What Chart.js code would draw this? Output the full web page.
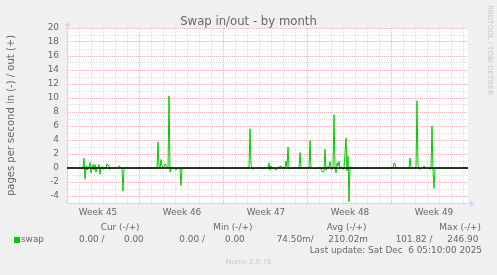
<!DOCTYPE html>
<html>
<head>
<meta charset="utf-8">
<title>Swap in/out - by month</title>
<script src="https://cdn.jsdelivr.net/npm/chart.js@4.4.1/dist/chart.umd.min.js"></script>
<style>
    body { margin: 0; background: #f0f0f0; }
    #wrap { position: relative; width: 497px; height: 275px; overflow: hidden; font-family: "DejaVu Sans", sans-serif; color: #666; }
    #wrap canvas { position: absolute; left: 0; top: 0; }
    .t { position: absolute; white-space: pre; font-size: 8.9px; line-height: 11px; }
    .title { position: absolute; left: 0; top: 14px; width: 497px; text-align: center; font-size: 11.7px; line-height: 14px; }
    .mark { position: absolute; color: #c8c8c8; font-size: 7px; line-height: 9px; white-space: pre; }
    .box { position: absolute; left: 14px; top: 237px; width: 6px; height: 6px; background: #00cc00; }
</style>
</head>
<body>
<div id="wrap">
    <canvas id="swapChart" width="497" height="275"></canvas>
    <div class="title">Swap in/out - by month</div>
    <div class="mark" style="left:485px; top:5px; writing-mode:vertical-rl;">RRDTOOL / TOBI OETIKER</div>
    <div id="legend"></div>
    <div class="mark" style="left:0; width:497px; text-align:center; top:258px;">Munin 2.0.76</div>
</div>
<script>
/* Data: hours from the left edge of the graph, swap pages/s (in is negative, out positive) */
var hours = [0, 8, 10, 12, 32, 34, 36, 38, 40, 42, 44, 46, 48, 50, 52, 54, 56, 58, 60, 62,
    64, 66, 68, 70, 72, 74, 78, 80, 82, 84, 86, 88, 102, 104, 106, 108, 110, 112, 114,
    180, 182, 184, 186, 188, 190, 192, 194, 196, 198, 200, 202, 204, 206, 208, 216, 218, 220,
    226, 228, 230, 364, 366, 368, 370, 372, 374, 386, 388, 390, 392, 394, 402, 404, 406, 408,
    410, 416, 418, 420, 422, 424, 426, 428, 430, 436, 438, 440, 442, 444, 446, 448, 464, 466,
    468, 484, 486, 488, 498, 500, 508, 510, 512, 514, 516, 518, 520, 522, 524, 526, 528, 530,
    532, 534, 536, 538, 540, 542, 544, 546, 550, 552, 554, 558, 560, 562, 564, 566, 568,
    652, 654, 656, 658, 684, 686, 688, 698, 700, 702, 704, 706, 708, 712, 714, 716, 724, 726,
    728, 730, 732, 734, 736, 778, 780, 782, 802];
var swap = [0, 0, 0.15, 0, 0, 1.4, -1.6, 0.3, -0.3, 0.2, 0, 0.8, -0.7, 0, 0.5, -0.3, 0.5, -0.6, 0.1, 0,
    0.5, -0.9, 0, 0.2, -0.2, 0, 0, 0.6, 0.4, 0.3, -0.2, 0, 0, 0.3, 0.2, 0, -0.2, -3.3, 0,
    0, 3.7, 0.3, 0, 1.2, 0.3, -0.1, 0.2, 0.6, 0.3, 0.2, 0, 10.3, -0.6, 0, 0, -0.3, 0,
    0, -2.5, 0, 0, 5.6, 0.5, 0, -0.2, 0, 0, 0.1, 0, -0.1, 0, 0, 0.7, -0.3, 0.3,
    0, 0, -0.3, -0.1, 0, 0.2, 0.1, 0.3, 0, 0, 1.0, 0.2, 3.0, 0.2, -0.1, 0, 0, 2.2,
    0, 0, 3.9, 0, -0.1, 0, 0, -0.5, -0.6, -0.5, 2.7, -0.3, 0, 0.2, 0, 0.95, 0.2, -0.2,
    0, 7.6, 0.2, -0.7, 0.7, 0.3, 0.95, 0, 0, -0.2, 0, 4.3, -0.4, 1.7, -4.8, 0.2, 0,
    0, 0.7, 0.6, 0, 0, 1.4, 0, 0, 9.6, 0.3, 0, -0.2, 0, 0, 0.3, 0, 0, -0.2,
    0, 6.0, -0.5, -2.9, 0, 0, -0.1, 0, 0];

var hourMin = 0;
var hourMax = 802;
var weekStarts = [144, 312, 480, 648];
var weekLabelHours = [62, 230, 398, 566, 734];
var weekLabels = ['Week 45', 'Week 46', 'Week 47', 'Week 48', 'Week 49'];
var yMin = -5;
var yMax = 20;

/* Legend numbers */
var statHeaders = ['Cur (-/+)', 'Min (-/+)', 'Avg (-/+)', 'Max (-/+)'];
var statIn = ['0.00 /', '0.00 /', '74.50m/', '101.82 /'];
var statOut = ['0.00', '0.00', '210.02m', '246.90'];
var lastUpdate = 'Last update: Sat Dec  6 05:10:00 2025';

/* Colors */
var fontColor = '#666666';
var axisColor = '#cfd6f8';
var majorGrid = '#f2b6b6';
var minorGrid = '#dedede';

/* Build the legend text under the graph */
function buildLegend() {
    var legend = document.getElementById('legend');
    var headerX = [100.7, 213.3, 326.7, 439.3];
    var inX = [79, 179.3, 276.7, 395.7];
    var outX = [124, 225, 328.3, 447.3];
    var html = '<div class="box"></div><div class="t" style="left:21px;top:233.5px">swap</div>';
    for (var i = 0; i < statHeaders.length; i++) {
        html += '<div class="t" style="left:' + headerX[i] + 'px;top:222px">' + statHeaders[i] + '</div>';
        html += '<div class="t" style="left:' + inX[i] + 'px;top:233.5px">' + statIn[i] + '</div>';
        html += '<div class="t" style="left:' + outX[i] + 'px;top:233.5px">' + statOut[i] + '</div>';
    }
    html += '<div class="t" style="right:15px;top:245.2px">' + lastUpdate + '</div>';
    legend.innerHTML = html;
}

/* White plot area */
var plotBackground = {
    id: 'plotBackground',
    beforeDraw: function(chart) {
        var a = chart.chartArea;
        var c = chart.ctx;
        c.save();
        c.fillStyle = '#ffffff';
        c.fillRect(a.left, a.top, a.right - a.left, a.bottom - a.top);
        c.restore();
    }
};

/* Small arrows at the end of both axes, like rrdtool */
var axisArrows = {
    id: 'axisArrows',
    afterDraw: function(chart) {
        var a = chart.chartArea;
        var c = chart.ctx;
        c.save();
        c.fillStyle = axisColor;
        c.strokeStyle = axisColor;
        c.lineWidth = 1;
        c.beginPath();
        c.moveTo(a.left + 0.5, a.top);
        c.lineTo(a.left + 0.5, a.top - 2);
        c.moveTo(a.right, a.bottom + 0.5);
        c.lineTo(a.right + 2, a.bottom + 0.5);
        c.stroke();
        c.beginPath();
        c.moveTo(a.left + 0.5, a.top - 7);
        c.lineTo(a.left - 2.5, a.top - 2);
        c.lineTo(a.left + 3.5, a.top - 2);
        c.closePath();
        c.fill();
        c.beginPath();
        c.moveTo(a.right + 7, a.bottom + 0.5);
        c.lineTo(a.right + 2, a.bottom - 2.5);
        c.lineTo(a.right + 2, a.bottom + 3.5);
        c.closePath();
        c.fill();
        c.restore();
    }
};

document.addEventListener('DOMContentLoaded', function() {
    buildLegend();

    var points = hours.map(function(h, i) { return { x: h, y: swap[i] }; });
    var zeroLine = [{ x: hourMin, y: 0 }, { x: hourMax, y: 0 }];

    Chart.defaults.font.family = '"DejaVu Sans", sans-serif';
    Chart.defaults.color = fontColor;

    new Chart(document.getElementById('swapChart'), {
        type: 'line',
        data: {
            datasets: [{
                label: 'zero',
                data: zeroLine,
                borderColor: '#000000',
                borderWidth: 1.3,
                pointRadius: 0
            }, {
                label: 'swap',
                data: points,
                borderColor: '#00cc00',
                borderWidth: 1,
                pointRadius: 0,
                tension: 0
            }]
        },
        options: {
            responsive: false,
            animation: false,
            layout: { padding: { top: 28, right: 29, bottom: 52, left: 0 } },
            plugins: {
                legend: { display: false },
                tooltip: { enabled: false }
            },
            scales: {
                x: {
                    type: 'linear',
                    min: hourMin,
                    max: hourMax,
                    afterFit: function(scale) { scale.height = 20; },
                    afterBuildTicks: function(scale) {
                        // one grid line per day plus the week label positions
                        var values = [];
                        for (var h = hourMin; h <= hourMax; h += 24) values.push(h);
                        values = values.concat(weekLabelHours).sort(function(a, b) { return a - b; });
                        scale.ticks = values.map(function(v) { return { value: v }; });
                    },
                    ticks: {
                        autoSkip: false,
                        maxRotation: 0,
                        padding: 4,
                        font: { size: 8.9 },
                        callback: function(value) {
                            var i = weekLabelHours.indexOf(value);
                            return i >= 0 ? weekLabels[i] : '';
                        }
                    },
                    grid: {
                        drawTicks: false,
                        color: function(context) {
                            var v = context.tick.value;
                            if (weekLabelHours.indexOf(v) >= 0) return 'rgba(0,0,0,0)';
                            if (weekStarts.indexOf(v) >= 0) return majorGrid;
                            return minorGrid;
                        }
                    },
                    border: { color: axisColor, dash: [1, 1] }
                },
                y: {
                    min: yMin,
                    max: yMax,
                    afterFit: function(scale) { scale.width = 67; },
                    ticks: {
                        stepSize: 1,
                        autoSkip: false,
                        padding: 8,
                        font: { size: 8.9 },
                        callback: function(value) {
                            return (value % 2 === 0 && value > yMin) ? value : '';
                        }
                    },
                    grid: {
                        drawTicks: false,
                        color: function(context) {
                            return context.tick.value % 2 === 0 ? majorGrid : minorGrid;
                        }
                    },
                    border: { color: axisColor, dash: [1, 1] },
                    title: {
                        display: true,
                        text: 'pages per second in (-) / out (+)',
                        font: { size: 10 },
                        padding: { top: 5, bottom: 0 }
                    }
                }
            }
        },
        plugins: [plotBackground, axisArrows]
    });
});
</script>
</body>
</html>
